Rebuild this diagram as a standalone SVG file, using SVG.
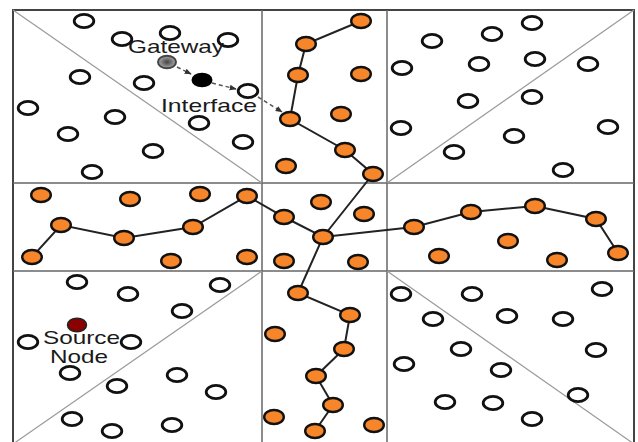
<svg xmlns="http://www.w3.org/2000/svg" width="638" height="442" viewBox="0 0 638 442">
<style>
.w{fill:#fff;stroke:#111;stroke-width:2.8}
.o{fill:#F7862A;stroke:#111;stroke-width:2.4}
.grid{stroke:#666;stroke-width:1.5;fill:none}
.diag{stroke:#9a9a9a;stroke-width:1.2}
.e{stroke:#222;stroke-width:2;fill:none}
.d{stroke:#555;stroke-width:1.5;stroke-dasharray:4 3;fill:none;marker-end:url(#ah)}
.t{font-family:"Liberation Sans",Arial,sans-serif;font-size:18.5px;fill:#1a1a1a}
</style>
<defs>
<radialGradient id="gw"><stop offset="0" stop-color="#444"/><stop offset="0.5" stop-color="#777"/><stop offset="1" stop-color="#aaa"/></radialGradient>
<marker id="ah" viewBox="0 0 10 10" refX="9" refY="5" markerWidth="7" markerHeight="7" orient="auto" markerUnits="userSpaceOnUse"><path d="M0,1 L10,5 L0,9 Z" fill="#333"/></marker>
</defs>
<rect width="638" height="442" fill="#fff"/>
<g id="grid">
<rect x="13" y="10" width="621" height="436" fill="none" stroke="#444" stroke-width="2"/>
<line class="grid" x1="262" y1="10" x2="262" y2="446"/>
<line class="grid" x1="387" y1="10" x2="387" y2="446"/>
<line class="grid" x1="13" y1="183" x2="634" y2="183"/>
<line class="grid" x1="13" y1="271" x2="634" y2="271"/>
<line class="diag" x1="13" y1="10" x2="262" y2="183"/>
<line class="diag" x1="634" y1="10" x2="387" y2="183"/>
<line class="diag" x1="262" y1="271" x2="13" y2="444"/>
<line class="diag" x1="387" y1="271" x2="634" y2="444"/>
</g>
<g id="connectors">
<polyline class="e" points="361,21 306,44 298,75 290,119 345,150 373,174 323,237"/>
<polyline class="e" points="32,257 61,225 124,238 193,227 247,196 284,217 323,237 414,227 471,212 535,206 596,219 618,253"/>
<polyline class="e" points="323,237 298,293 350,315 344,349 316,376 333,405 315,431"/>
<line class="d" x1="177" y1="67" x2="191" y2="74"/>
<line class="d" x1="212" y1="83" x2="236" y2="89"/>
<line class="d" x1="258" y1="97" x2="282" y2="112"/>
</g>
<g id="white-nodes">
<g id="w1"><ellipse class="w" cx="84" cy="21" rx="9.8" ry="6.6"/></g>
<g id="w2"><ellipse class="w" cx="122" cy="39" rx="9.8" ry="6.6"/></g>
<g id="w3"><ellipse class="w" cx="170" cy="33" rx="9.8" ry="6.6"/></g>
<g id="w4"><ellipse class="w" cx="228" cy="40" rx="9.8" ry="6.6"/></g>
<g id="w5"><ellipse class="w" cx="80" cy="77" rx="9.8" ry="6.6"/></g>
<g id="w6"><ellipse class="w" cx="144" cy="83" rx="9.8" ry="6.6"/></g>
<g id="w7"><ellipse class="w" cx="248" cy="91" rx="9.8" ry="6.6"/></g>
<g id="w8"><ellipse class="w" cx="28" cy="108" rx="9.8" ry="6.6"/></g>
<g id="w9"><ellipse class="w" cx="115" cy="117" rx="9.8" ry="6.6"/></g>
<g id="w10"><ellipse class="w" cx="199" cy="123" rx="9.8" ry="6.6"/></g>
<g id="w11"><ellipse class="w" cx="243" cy="142" rx="9.8" ry="6.6"/></g>
<g id="w12"><ellipse class="w" cx="68" cy="134" rx="9.8" ry="6.6"/></g>
<g id="w13"><ellipse class="w" cx="153" cy="151" rx="9.8" ry="6.6"/></g>
<g id="w14"><ellipse class="w" cx="92" cy="172" rx="9.8" ry="6.6"/></g>
<g id="w15"><ellipse class="w" cx="402" cy="68" rx="9.8" ry="6.6"/></g>
<g id="w16"><ellipse class="w" cx="432" cy="41" rx="9.8" ry="6.6"/></g>
<g id="w17"><ellipse class="w" cx="492" cy="34" rx="9.8" ry="6.6"/></g>
<g id="w18"><ellipse class="w" cx="532" cy="23" rx="9.8" ry="6.6"/></g>
<g id="w19"><ellipse class="w" cx="479" cy="64" rx="9.8" ry="6.6"/></g>
<g id="w20"><ellipse class="w" cx="535" cy="59" rx="9.8" ry="6.6"/></g>
<g id="w21"><ellipse class="w" cx="588" cy="64" rx="9.8" ry="6.6"/></g>
<g id="w22"><ellipse class="w" cx="468" cy="101" rx="9.8" ry="6.6"/></g>
<g id="w23"><ellipse class="w" cx="532" cy="97" rx="9.8" ry="6.6"/></g>
<g id="w24"><ellipse class="w" cx="401" cy="128" rx="9.8" ry="6.6"/></g>
<g id="w25"><ellipse class="w" cx="514" cy="136" rx="9.8" ry="6.6"/></g>
<g id="w26"><ellipse class="w" cx="608" cy="127" rx="9.8" ry="6.6"/></g>
<g id="w27"><ellipse class="w" cx="454" cy="152" rx="9.8" ry="6.6"/></g>
<g id="w28"><ellipse class="w" cx="563" cy="170" rx="9.8" ry="6.6"/></g>
<g id="w29"><ellipse class="w" cx="220" cy="285" rx="9.8" ry="6.6"/></g>
<g id="w30"><ellipse class="w" cx="77" cy="282" rx="9.8" ry="6.6"/></g>
<g id="w31"><ellipse class="w" cx="128" cy="294" rx="9.8" ry="6.6"/></g>
<g id="w32"><ellipse class="w" cx="182" cy="311" rx="9.8" ry="6.6"/></g>
<g id="w33"><ellipse class="w" cx="28" cy="342" rx="9.8" ry="6.6"/></g>
<g id="w34"><ellipse class="w" cx="131" cy="342" rx="9.8" ry="6.6"/></g>
<g id="w35"><ellipse class="w" cx="70" cy="373" rx="9.8" ry="6.6"/></g>
<g id="w36"><ellipse class="w" cx="117" cy="386" rx="9.8" ry="6.6"/></g>
<g id="w37"><ellipse class="w" cx="177" cy="375" rx="9.8" ry="6.6"/></g>
<g id="w38"><ellipse class="w" cx="216" cy="392" rx="9.8" ry="6.6"/></g>
<g id="w39"><ellipse class="w" cx="72" cy="419" rx="9.8" ry="6.6"/></g>
<g id="w40"><ellipse class="w" cx="112" cy="431" rx="9.8" ry="6.6"/></g>
<g id="w41"><ellipse class="w" cx="172" cy="425" rx="9.8" ry="6.6"/></g>
<g id="w42"><ellipse class="w" cx="401" cy="294" rx="9.8" ry="6.6"/></g>
<g id="w43"><ellipse class="w" cx="472" cy="294" rx="9.8" ry="6.6"/></g>
<g id="w44"><ellipse class="w" cx="602" cy="289" rx="9.8" ry="6.6"/></g>
<g id="w45"><ellipse class="w" cx="433" cy="319" rx="9.8" ry="6.6"/></g>
<g id="w46"><ellipse class="w" cx="507" cy="316" rx="9.8" ry="6.6"/></g>
<g id="w47"><ellipse class="w" cx="563" cy="319" rx="9.8" ry="6.6"/></g>
<g id="w48"><ellipse class="w" cx="404" cy="364" rx="9.8" ry="6.6"/></g>
<g id="w49"><ellipse class="w" cx="461" cy="349" rx="9.8" ry="6.6"/></g>
<g id="w50"><ellipse class="w" cx="596" cy="350" rx="9.8" ry="6.6"/></g>
<g id="w51"><ellipse class="w" cx="501" cy="370" rx="9.8" ry="6.6"/></g>
<g id="w52"><ellipse class="w" cx="578" cy="395" rx="9.8" ry="6.6"/></g>
<g id="w53"><ellipse class="w" cx="445" cy="402" rx="9.8" ry="6.6"/></g>
<g id="w54"><ellipse class="w" cx="493" cy="403" rx="9.8" ry="6.6"/></g>
<g id="w55"><ellipse class="w" cx="532" cy="419" rx="9.8" ry="6.6"/></g>
</g>
<g id="orange-nodes">
<g id="o1"><ellipse class="o" cx="361" cy="21" rx="9.8" ry="7"/></g>
<g id="o2"><ellipse class="o" cx="306" cy="44" rx="9.8" ry="7"/></g>
<g id="o3"><ellipse class="o" cx="298" cy="75" rx="9.8" ry="7"/></g>
<g id="o4"><ellipse class="o" cx="361" cy="74" rx="9.8" ry="7"/></g>
<g id="o5"><ellipse class="o" cx="290" cy="119" rx="9.8" ry="7"/></g>
<g id="o6"><ellipse class="o" cx="341" cy="114" rx="9.8" ry="7"/></g>
<g id="o7"><ellipse class="o" cx="345" cy="150" rx="9.8" ry="7"/></g>
<g id="o8"><ellipse class="o" cx="286" cy="166" rx="9.8" ry="7"/></g>
<g id="o9"><ellipse class="o" cx="373" cy="174" rx="9.8" ry="7"/></g>
<g id="o10"><ellipse class="o" cx="41" cy="195" rx="9.8" ry="7"/></g>
<g id="o11"><ellipse class="o" cx="130" cy="199" rx="9.8" ry="7"/></g>
<g id="o12"><ellipse class="o" cx="200" cy="194" rx="9.8" ry="7"/></g>
<g id="o13"><ellipse class="o" cx="61" cy="225" rx="9.8" ry="7"/></g>
<g id="o14"><ellipse class="o" cx="124" cy="238" rx="9.8" ry="7"/></g>
<g id="o15"><ellipse class="o" cx="193" cy="227" rx="9.8" ry="7"/></g>
<g id="o16"><ellipse class="o" cx="32" cy="257" rx="9.8" ry="7"/></g>
<g id="o17"><ellipse class="o" cx="171" cy="261" rx="9.8" ry="7"/></g>
<g id="o18"><ellipse class="o" cx="247" cy="196" rx="9.8" ry="7"/></g>
<g id="o19"><ellipse class="o" cx="321" cy="202" rx="9.8" ry="7"/></g>
<g id="o20"><ellipse class="o" cx="284" cy="217" rx="9.8" ry="7"/></g>
<g id="o21"><ellipse class="o" cx="364" cy="214" rx="9.8" ry="7"/></g>
<g id="o22"><ellipse class="o" cx="323" cy="237" rx="9.8" ry="7"/></g>
<g id="o23"><ellipse class="o" cx="247" cy="257" rx="9.8" ry="7"/></g>
<g id="o24"><ellipse class="o" cx="284" cy="261" rx="9.8" ry="7"/></g>
<g id="o25"><ellipse class="o" cx="358" cy="262" rx="9.8" ry="7"/></g>
<g id="o26"><ellipse class="o" cx="414" cy="227" rx="9.8" ry="7"/></g>
<g id="o27"><ellipse class="o" cx="471" cy="212" rx="9.8" ry="7"/></g>
<g id="o28"><ellipse class="o" cx="535" cy="206" rx="9.8" ry="7"/></g>
<g id="o29"><ellipse class="o" cx="596" cy="219" rx="9.8" ry="7"/></g>
<g id="o30"><ellipse class="o" cx="618" cy="253" rx="9.8" ry="7"/></g>
<g id="o31"><ellipse class="o" cx="508" cy="241" rx="9.8" ry="7"/></g>
<g id="o32"><ellipse class="o" cx="439" cy="256" rx="9.8" ry="7"/></g>
<g id="o33"><ellipse class="o" cx="557" cy="260" rx="9.8" ry="7"/></g>
<g id="o34"><ellipse class="o" cx="298" cy="293" rx="9.8" ry="7"/></g>
<g id="o35"><ellipse class="o" cx="350" cy="315" rx="9.8" ry="7"/></g>
<g id="o36"><ellipse class="o" cx="275" cy="334" rx="9.8" ry="7"/></g>
<g id="o37"><ellipse class="o" cx="344" cy="349" rx="9.8" ry="7"/></g>
<g id="o38"><ellipse class="o" cx="316" cy="376" rx="9.8" ry="7"/></g>
<g id="o39"><ellipse class="o" cx="333" cy="405" rx="9.8" ry="7"/></g>
<g id="o40"><ellipse class="o" cx="274" cy="417" rx="9.8" ry="7"/></g>
<g id="o41"><ellipse class="o" cx="315" cy="431" rx="9.8" ry="7"/></g>
<g id="o42"><ellipse class="o" cx="374" cy="425" rx="9.8" ry="7"/></g>
</g>
<g id="gateway"><ellipse cx="167" cy="62" rx="9" ry="6.3" fill="url(#gw)" stroke="#444" stroke-width="2"/><text class="t" x="128" y="53" textLength="96" lengthAdjust="spacingAndGlyphs">Gateway</text></g>
<g id="interface"><ellipse cx="202" cy="80" rx="10.5" ry="7.3" fill="#000"/><text class="t" x="161" y="112" textLength="96" lengthAdjust="spacingAndGlyphs">Interface</text></g>
<g id="source"><ellipse cx="77" cy="325" rx="9.5" ry="6.8" fill="#8B0000" stroke="#222" stroke-width="1.5"/><text class="t" x="43" y="344" textLength="77" lengthAdjust="spacingAndGlyphs">Source</text><text class="t" x="50" y="363" textLength="58" lengthAdjust="spacingAndGlyphs">Node</text></g>
</svg>
